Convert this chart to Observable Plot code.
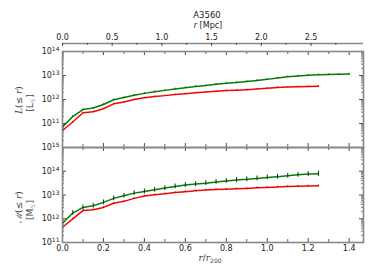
<!DOCTYPE html>
<html><head><meta charset="utf-8">
<script src="https://cdn.jsdelivr.net/npm/d3@7"></script>
<script src="https://cdn.jsdelivr.net/npm/@observablehq/plot@0.6"></script>
<style>
body{margin:0;background:#fff;}
#chart{position:relative;width:374px;height:280px;font-family:"DejaVu Sans",sans-serif;}
#chart svg{position:absolute;left:0;overflow:visible;background:transparent;}
</style></head><body><div id="chart"></div>
<script>
// ---- data ----
const rOverR200 = [0,0.05,0.1,0.15,0.2,0.25,0.3,0.35,0.4,0.45,0.5,0.55,0.6,0.65,0.7,0.75,0.8,0.85,0.9,0.95,1.0,1.05,1.1,1.15,1.2,1.25,1.3,1.35,1.4];
const lumTotal = [7.1e10,1.95e11,3.8e11,4.4e11,6.2e11,9.8e11,1.2e12,1.5e12,1.8e12,2.1e12,2.4e12,2.75e12,3.1e12,3.5e12,3.8e12,4.3e12,4.7e12,5.1e12,5.6e12,6.2e12,6.9e12,7.9e12,8.9e12,9.5e12,1.02e13,1.07e13,1.1e13,1.12e13,1.15e13];
const lumRed = [5.1e10,1.15e11,2.8e11,3.1e11,4.1e11,6.6e11,7.9e11,1.0e12,1.17e12,1.32e12,1.45e12,1.6e12,1.74e12,1.9e12,2.04e12,2.2e12,2.35e12,2.45e12,2.57e12,2.75e12,2.95e12,3.16e12,3.3e12,3.4e12,3.47e12,3.55e12];
const massTotal = [6.5e11,1.74e12,3.0e12,3.55e12,4.9e12,7.2e12,9.3e12,1.2e13,1.41e13,1.66e13,1.95e13,2.3e13,2.63e13,2.88e13,3.16e13,3.55e13,3.9e13,4.27e13,4.57e13,5.0e13,5.5e13,5.9e13,6.45e13,7.1e13,7.6e13,7.8e13];
const massRed = [4.4e11,9.8e11,2.2e12,2.4e12,3.0e12,4.5e12,5.4e12,7.2e12,9.1e12,1.02e13,1.12e13,1.26e13,1.38e13,1.51e13,1.62e13,1.7e13,1.74e13,1.82e13,1.9e13,2.0e13,2.09e13,2.19e13,2.29e13,2.34e13,2.4e13,2.45e13];
// error bar half-sizes in dex
const lumTotalErr = [0.03,0.03,0.03,0.03,0.03,0.03,0.03,0.03,0.03,0.03,0.03,0.03,0.03,0.03,0.03,0.03,0.03,0.03,0.03,0.03,0.03,0.03,0.03,0.03,0.03,0.03,0.03,0.03,0.03];
const lumRedErr = [0.02,0.02,0.02,0.02,0.02,0.02,0.02,0.02,0.02,0.02,0.02,0.02,0.02,0.02,0.02,0.02,0.02,0.02,0.02,0.02,0.02,0.02,0.02,0.02,0.02,0.02];
const massTotalErr = [0.09,0.1,0.1,0.1,0.1,0.1,0.1,0.1,0.1,0.1,0.1,0.1,0.1,0.1,0.1,0.1,0.1,0.1,0.1,0.1,0.1,0.1,0.1,0.1,0.1,0.11];
const massRedErr = [0.03,0.03,0.03,0.03,0.03,0.03,0.03,0.03,0.03,0.03,0.03,0.03,0.03,0.03,0.03,0.03,0.03,0.03,0.03,0.03,0.03,0.03,0.03,0.03,0.03,0.03];
const r200Mpc = 2.06;
const mpcTickLabels = [0.0,0.5,1.0,1.5,2.0,2.5];
const mpcMinorTicks = [0.25,0.75,1.25,1.75,2.25,2.75];
const xTickLabels = [0.0,0.2,0.4,0.6,0.8,1.0,1.2,1.4];
const xMinorTicks = [0.1,0.3,0.5,0.7,0.9,1.1,1.3];
const lumDecades = [1e10,1e11,1e12,1e13,1e14];
const lumLabelled = [1e11,1e12,1e13,1e14];
const massDecades = [1e11,1e12,1e13,1e14,1e15];

// ---- layout / style ----
const W = 374, ML = 62, MR = 11, IW = W - ML - MR;
const green = "#008000", red = "#ff0000", frameC = "#888", textC = "#222";
const powFmt = d => "10^" + Math.round(Math.log10(d));
const minorLog = (lo, hi) => d3.range(lo, hi).flatMap(e => d3.range(2, 10).map(k => k * 10 ** e));
const xDomain = [0, 1.47];
const style = {fontFamily: "DejaVu Sans, sans-serif", fontSize: "8px", color: textC, background: "transparent", overflow: "visible"};

function frameTicks(IH, major, minor) {
  return [
    Plot.ruleY(major, {insetRight: IW - 4, stroke: textC, strokeWidth: 0.8}),
    Plot.ruleY(major, {insetLeft: IW - 4, stroke: textC, strokeWidth: 0.8}),
    Plot.ruleY(minor, {insetRight: IW - 2, stroke: textC, strokeWidth: 0.6}),
    Plot.ruleY(minor, {insetLeft: IW - 2, stroke: textC, strokeWidth: 0.6}),
    Plot.ruleX(xTickLabels, {insetBottom: IH - 4, stroke: textC, strokeWidth: 0.8}),
    Plot.ruleX(xTickLabels, {insetTop: IH - 4, stroke: textC, strokeWidth: 0.8}),
    Plot.ruleX(xMinorTicks, {insetBottom: IH - 3, stroke: textC, strokeWidth: 0.7}),
    Plot.ruleX(xMinorTicks, {insetTop: IH - 3, stroke: textC, strokeWidth: 0.7})
  ];
}
const xr = (d, i) => rOverR200[i];

// ---- top panel: luminosity ----
const top1 = 51, H1 = 147, IH1 = H1 - top1;
const p1 = Plot.plot({
  width: W, height: H1, marginTop: top1, marginBottom: 0, marginLeft: ML, marginRight: MR,
  style,
  x: {domain: xDomain},
  y: {type: "log", domain: [1e10, 1e14]},
  marks: [
    Plot.line(lumRed, {x: xr, y: d => d, stroke: red, strokeWidth: 1.5}),
    Plot.ruleX(lumRed, {x: xr, y1: (d, i) => d / 10 ** lumRedErr[i], y2: (d, i) => d * 10 ** lumRedErr[i], stroke: "#333", strokeWidth: 1}),
    Plot.line(lumTotal, {x: xr, y: d => d, stroke: green, strokeWidth: 1.5}),
    Plot.ruleX(lumTotal, {x: xr, y1: (d, i) => d / 10 ** lumTotalErr[i], y2: (d, i) => d * 10 ** lumTotalErr[i], stroke: "#333", strokeWidth: 1}),
    ...frameTicks(IH1, lumDecades, minorLog(10, 14)),
    Plot.frame({stroke: frameC, strokeWidth: 1.6}),
    Plot.axisY(lumLabelled, {anchor: "left", tickSize: 0, tickPadding: 3, stroke: "none", tickFormat: powFmt, label: null, fill: textC}),
    // secondary top axis in Mpc
    Plot.ruleY([1e14], {dy: -8, stroke: frameC, strokeWidth: 1.6}),
    Plot.ruleX(mpcTickLabels.map(m => m / r200Mpc), {dy: -8, insetBottom: IH1 - 3, stroke: textC, strokeWidth: 0.8}),
    Plot.ruleX(mpcMinorTicks.map(m => m / r200Mpc), {dy: -8, insetBottom: IH1 - 2, stroke: textC, strokeWidth: 0.7}),
    Plot.axisX(mpcTickLabels.map(m => m / r200Mpc), {anchor: "top", dy: -8, tickSize: 0, tickPadding: 4, stroke: "none", label: null, fill: textC, tickFormat: d => (d * r200Mpc).toFixed(1)})
  ]
});
p1.style.top = "0px";

// ---- bottom panel: mass ----
const off2 = 140, H2 = 140, top2 = 7, bot2 = 38, IH2 = H2 - top2 - bot2;
const p2 = Plot.plot({
  width: W, height: H2, marginTop: top2, marginBottom: bot2, marginLeft: ML, marginRight: MR,
  style,
  x: {domain: xDomain},
  y: {type: "log", domain: [1e11, 1e15]},
  marks: [
    Plot.line(massRed, {x: xr, y: d => d, stroke: red, strokeWidth: 1.5}),
    Plot.ruleX(massRed, {x: xr, y1: (d, i) => d / 10 ** massRedErr[i], y2: (d, i) => d * 10 ** massRedErr[i], stroke: "#333", strokeWidth: 1}),
    Plot.line(massTotal, {x: xr, y: d => d, stroke: green, strokeWidth: 1.5}),
    Plot.ruleX(massTotal, {x: xr, y1: (d, i) => d / 10 ** massTotalErr[i], y2: (d, i) => d * 10 ** massTotalErr[i], stroke: "#222", strokeWidth: 1}),
    ...frameTicks(IH2, massDecades, minorLog(11, 15)),
    Plot.frame({stroke: frameC, strokeWidth: 1.6}),
    Plot.axisY(massDecades, {anchor: "left", tickSize: 0, tickPadding: 3, stroke: "none", tickFormat: powFmt, label: null, fill: textC}),
    Plot.axisX(xTickLabels, {anchor: "bottom", tickSize: 0, tickPadding: 3, stroke: "none", label: null, fill: textC, tickFormat: d => d.toFixed(1)})
  ]
});
p2.style.top = off2 + "px";

const chart = document.getElementById("chart");
chart.append(p1, p2);

// superscript exponents in the y tick labels
for (const svg of [p1, p2]) {
  d3.select(svg).selectAll("text").each(function () {
    const s = this.textContent;
    const m = /^10\^(\d+)$/.exec(s);
    if (!m) return;
    const t = d3.select(this);
    t.text("");
    t.append("tspan").text("10");
    t.append("tspan").attr("font-size", 6).attr("dy", "-0.45em").text(m[1]);
  });
}

// ---- text labels with mixed styles ----
const s1 = d3.select(p1), s2 = d3.select(p2);
s1.append("text").attr("x", 207).attr("y", 18).attr("text-anchor", "middle").attr("font-size", 8.5).attr("fill", textC).text("A3560");
const mpcLab = s1.append("text").attr("x", 208).attr("y", 28).attr("text-anchor", "middle").attr("font-size", 8).attr("fill", textC);
mpcLab.append("tspan").attr("font-style", "italic").attr("fill", "#222").text("r");
mpcLab.append("tspan").attr("fill", "#222").text(" [Mpc]");

function yLabel(svg, cy, sym, unit) {
  const t = svg.append("text").attr("transform", `translate(22,${cy}) rotate(-90)`).attr("text-anchor", "middle").attr("font-size", 9).attr("fill", "#444");
  t.append("tspan").attr("font-style", "italic").attr("font-family", "DejaVu Serif").text(sym);
  t.append("tspan").text("(≤ ");
  t.append("tspan").attr("font-style", "italic").attr("font-family", "DejaVu Serif").text("r");
  t.append("tspan").text(")");
  const u = svg.append("text").attr("transform", `translate(33,${cy + 3}) rotate(-90)`).attr("text-anchor", "middle").attr("font-size", 9).attr("fill", "#444");
  u.append("tspan").text("[" + unit);
  u.append("tspan").attr("font-size", 6).attr("dy", 2).text("☉");
  u.append("tspan").attr("dy", -2).text("]");
}
yLabel(s1, 100, "L", "L");
yLabel(s2, 207 - off2, "ℳ", "M");

const xl = s2.append("text").attr("x", 210).attr("y", 261 - off2).attr("text-anchor", "middle").attr("font-size", 9).attr("fill", "#444");
xl.append("tspan").attr("font-style", "italic").attr("font-family", "DejaVu Serif").text("r");
xl.append("tspan").text("/");
xl.append("tspan").attr("font-style", "italic").attr("font-family", "DejaVu Serif").text("r");
xl.append("tspan").attr("font-size", 6).attr("dy", 2).text("200");
</script></body></html>
